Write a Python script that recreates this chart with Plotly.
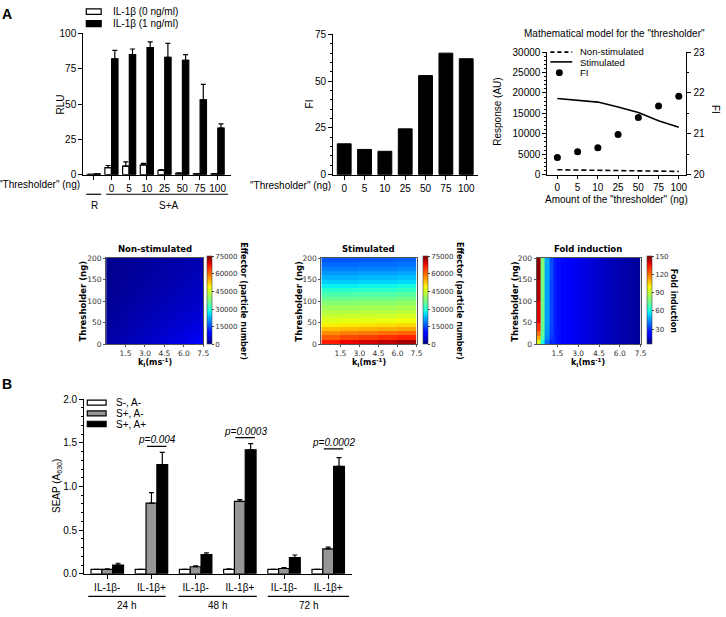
import plotly.graph_objects as go

# ---------------- DATA ----------------
# Panel A (left): RLU
a1_categories = ["R", "0", "5", "10", "25", "50", "75", "100"]
a1_il0 = [0.3, 5, 6, 7, 3, 1, 0.5, 0.5]
a1_il0_err = [0, 1.5, 3, 1, 0.5, 0.3, 0.2, 0.2]
a1_il1 = [0.5, 82, 85, 90, 83, 81, 53, 33]
a1_il1_err = [0, 6, 4, 4, 10, 4, 11, 3]

# Panel A (middle): FI
a2_categories = ["0", "5", "10", "25", "50", "75", "100"]
a2_fi = [16.5, 13.5, 12.5, 24.5, 53, 65, 62]

# Panel A (right): model
a3_doses = ["0", "5", "10", "25", "50", "75", "100"]
a3_nonstim = [1200, 1150, 1100, 1050, 950, 850, 800]
a3_stim = [18640, 18160, 17760, 16560, 15200, 13200, 11600]
a3_fi = [20.42, 20.56, 20.66, 20.98, 21.40, 21.68, 21.92]

# Heatmaps
nonstim_k = [0.0, 1.5, 3.0, 4.5, 6.0, 7.5]
nonstim_t = [0, 50, 100, 150, 200]
nonstim_z = [
    [2500, 3600, 4700, 5800, 7000, 8500],
    [1800, 2700, 3600, 4500, 5400, 6300],
    [1300, 2000, 2800, 3500, 4200, 4900],
    [1000, 1600, 2200, 2800, 3400, 4000],
    [800, 1300, 1800, 2300, 2800, 3300],
]
stim_k_edges = [0, 1.5, 3.0, 4.5, 6.0, 7.5]
stim_t_edges = [0, 10, 20, 30, 40, 50, 60, 70, 80, 90, 100, 110, 120, 130, 140, 150, 160, 170, 180, 190, 200]
stim_z = [
    [66000, 68000, 69500, 71000, 72500],
    [61000, 62500, 63500, 64500, 65500],
    [57000, 58000, 58500, 59500, 60000],
    [53000, 53500, 54000, 54500, 55000],
    [49000, 49500, 50000, 50500, 51000],
    [46500, 47000, 47000, 47500, 48000],
    [44500, 44500, 45000, 45000, 45500],
    [42500, 42500, 43000, 43000, 43500],
    [40500, 40500, 41000, 41000, 41500],
    [38500, 38500, 39000, 39000, 39500],
    [36000, 36000, 36500, 36500, 37000],
    [33000, 33000, 33500, 33500, 34000],
    [30000, 30000, 30500, 30500, 31000],
    [27000, 27000, 27500, 27500, 28000],
    [24500, 24500, 25000, 25000, 25500],
    [22500, 22500, 23000, 23000, 23500],
    [20500, 20500, 21000, 21000, 21500],
    [18500, 18500, 19000, 19000, 19500],
    [17000, 17000, 17500, 17500, 18000],
    [15500, 15500, 16000, 16000, 16500],
]
fold_low_k_edges = [0, 0.3, 0.6, 0.9, 1.2]
fold_low_t_edges = [0, 10, 20, 30, 50, 100, 150, 200]
fold_low_z = [
    [95, 60, 38, 28],
    [110, 68, 42, 31],
    [120, 72, 44, 32],
    [130, 74, 45, 33],
    [138, 76, 46, 33],
    [144, 77, 46, 33],
    [148, 78, 47, 34],
]
fold_high_z = [[27, 25, 23.5, 22, 20.5, 19.5, 18.5, 17.5, 16.5, 15.5, 14.8,
                14, 13.3, 12.6, 12, 11.3, 10.7, 10, 9.4, 8.8, 8.2]]

# Panel B: SEAP
b_groups = ["IL-1β-", "IL-1β+", "IL-1β-", "IL-1β+", "IL-1β-", "IL-1β+"]
b_times = ["24 h", "48 h", "72 h"]
b_white = [0.05, 0.05, 0.05, 0.05, 0.05, 0.05]
b_white_err = [0, 0, 0, 0.005, 0, 0]
b_grey = [0.05, 0.81, 0.08, 0.83, 0.06, 0.285]
b_grey_err = [0.005, 0.12, 0.01, 0.02, 0.01, 0.02]
b_black = [0.10, 1.25, 0.22, 1.42, 0.185, 1.23]
b_black_err = [0.02, 0.14, 0.02, 0.07, 0.03, 0.10]
b_pvalues = ["0.004", "0.0003", "0.0002"]
b_pline = [1.46, 1.56, 1.43]

# ---------------- HELPERS ----------------
W, H = 726, 617
FONT = "Liberation Sans, Arial, sans-serif"
HFONT = "DejaVu Sans, sans-serif"


def X(p):
    return p / W


def Y(p):
    return 1 - p / H


ann = []
shapes = []


def text(x, y, s, size=10, xanchor="center", yanchor="middle", family=FONT, angle=0):
    ann.append(dict(x=X(x), y=Y(y), xref="paper", yref="paper", text=s, showarrow=False,
                    xanchor=xanchor, yanchor=yanchor, textangle=angle,
                    font=dict(family=family, size=size, color="black")))


def pline(x0, y0, x1, y1, dash="solid", width=1.2):
    shapes.append(dict(type="line", xref="paper", yref="paper", x0=X(x0), y0=Y(y0), x1=X(x1), y1=Y(y1),
                       line=dict(color="black", width=width, dash=dash)))


def prect(x0, y0, x1, y1, fill):
    shapes.append(dict(type="rect", xref="paper", yref="paper", x0=X(x0), y0=Y(y0), x1=X(x1), y1=Y(y1),
                       fillcolor=fill, line=dict(color="black", width=1.2)))


def err(arr):
    return dict(type="data", array=arr, arrayminus=[0] * len(arr), symmetric=False,
                color="black", thickness=1.2, width=2.5)


def prism(**kw):
    d = dict(showline=True, linecolor="black", linewidth=1.2, ticks="outside", ticklen=4,
             tickwidth=1.2, tickcolor="black", showgrid=False, zeroline=False,
             tickfont=dict(family=FONT, size=10, color="black"))
    d.update(kw)
    return d


def hax(**kw):
    d = dict(showline=True, mirror=True, linecolor="#555", linewidth=1, ticks="outside", ticklen=2,
             tickcolor="#555", showgrid=False, zeroline=False,
             tickfont=dict(family=HFONT, size=7.5, color="#333"))
    d.update(kw)
    return d


jet = [[0, "rgb(0,0,128)"], [0.11, "rgb(0,0,255)"], [0.125, "rgb(0,0,255)"],
       [0.34, "rgb(0,219,255)"], [0.35, "rgb(0,230,247)"], [0.375, "rgb(21,255,226)"],
       [0.64, "rgb(238,255,8)"], [0.65, "rgb(247,245,0)"], [0.66, "rgb(255,236,0)"],
       [0.89, "rgb(255,19,0)"], [0.91, "rgb(232,0,0)"], [1, "rgb(128,0,0)"]]


def cbar(xpx, vals):
    return dict(x=X(xpx), xanchor="left", xref="paper", y=Y(345), yanchor="bottom", yref="paper",
                len=88, lenmode="pixels", thickness=5, thicknessmode="pixels", xpad=0, ypad=0,
                outlinewidth=0.6, outlinecolor="#444", tickvals=vals, ticks="outside", ticklen=2,
                tickformat="d", tickfont=dict(family=HFONT, size=7, color="#333"))


fig = go.Figure()

# ---------------- A1 ----------------
idx1 = list(range(len(a1_categories)))
fig.add_bar(x=idx1, y=a1_il0, width=0.36, offset=-0.37, xaxis="x", yaxis="y",
            marker=dict(color="white", line=dict(color="black", width=1.2)), error_y=err(a1_il0_err))
fig.add_bar(x=idx1, y=a1_il1, width=0.36, offset=0.01, xaxis="x", yaxis="y",
            marker=dict(color="black", line=dict(color="black", width=1.2)), error_y=err(a1_il1_err))

# ---------------- A2 ----------------
idx2 = list(range(len(a2_categories)))
fig.add_bar(x=idx2, y=a2_fi, width=0.68, offset=-0.34, xaxis="x2", yaxis="y2",
            marker=dict(color="black", line=dict(color="black", width=1)))

# ---------------- A3 ----------------
idx3 = list(range(len(a3_doses)))
fig.add_scatter(x=idx3, y=a3_nonstim, mode="lines", xaxis="x3", yaxis="y3",
                line=dict(color="black", width=1.6, dash="5px,3px"))
fig.add_scatter(x=idx3, y=a3_stim, mode="lines", xaxis="x3", yaxis="y3",
                line=dict(color="black", width=1.6))
fig.add_scatter(x=idx3, y=a3_fi, mode="markers", xaxis="x3", yaxis="y4",
                marker=dict(color="black", size=7))

# ---------------- Heatmaps ----------------
fig.add_heatmap(x=nonstim_k, y=nonstim_t, z=nonstim_z, zsmooth="best", zmin=0, zmax=75000,
                colorscale=jet, xaxis="x5", yaxis="y5",
                colorbar=cbar(209, [0, 15000, 30000, 45000, 60000, 75000]))
fig.add_heatmap(x=stim_k_edges, y=stim_t_edges, z=stim_z, zmin=0, zmax=75000,
                colorscale=jet, xaxis="x6", yaxis="y6",
                colorbar=cbar(427, [0, 15000, 30000, 45000, 60000, 75000]))
fold_high_k_edges = [round(1.2 + 0.3 * i, 2) for i in range(len(fold_high_z[0]) + 1)]
fig.add_heatmap(x=fold_low_k_edges, y=fold_low_t_edges, z=fold_low_z, zmin=5, zmax=150,
                colorscale=jet, xaxis="x7", yaxis="y7", showscale=False)
fig.add_heatmap(x=fold_high_k_edges, y=[0, 200], z=fold_high_z, zmin=5, zmax=150,
                colorscale=jet, xaxis="x7", yaxis="y7",
                colorbar=cbar(652, [30, 60, 90, 120, 150]))

# ---------------- B ----------------
idx8 = list(range(len(b_groups)))
for vals, errs, col, off in [(b_white, b_white_err, "white", -0.3675),
                             (b_grey, b_grey_err, "#969696", -0.1225),
                             (b_black, b_black_err, "black", 0.1225)]:
    fig.add_bar(x=idx8, y=vals, width=0.245, offset=off, xaxis="x8", yaxis="y8",
                marker=dict(color=col, line=dict(color="black", width=1.2)), error_y=err(errs))

# p-values
for i, (pv, ly) in enumerate(zip(b_pvalues, b_pline)):
    g = 2 * i + 1
    shapes.append(dict(type="line", xref="x8", yref="y8", x0=g - 0.1, x1=g + 0.34, y0=ly, y1=ly,
                       line=dict(color="black", width=1.2)))
    ann.append(dict(x=g + 0.12, y=ly, xref="x8", yref="y8", text="<i>p=" + pv + "</i>",
                    showarrow=False, xanchor="center", yanchor="bottom", yshift=-1,
                    font=dict(family=FONT, size=10, color="black")))

# ---------------- annotations & decorations ----------------
text(7, 8, "<b>A</b>", size=14)
text(7, 385, "<b>B</b>", size=14)

# A1 legend and labels
prect(87, 3, 102, 8.5, "white")
prect(87, 15, 102, 21, "black")
text(112, 6, "IL-1β (0 ng/ml)", xanchor="left")
text(112, 18, "IL-1β (1 ng/ml)", xanchor="left")
text(61, 100, "RLU", angle=-90)
text(83, 182, '"Thresholder" (ng)', xanchor="right")
pline(87, 192, 102, 192)
pline(107, 192, 230, 192)
text(95, 203, "R")
text(170, 203, "S+A")

# A2 labels
text(312, 100, "FI", angle=-90)
text(336, 183, '"Thresholder" (ng)', xanchor="right")

# A3 labels & legend
text(620, 28, 'Mathematical model for the "thresholder"')
text(502, 108, "Response (AU)", angle=-90)
text(721, 105, "FI", angle=90)
text(622, 197, 'Amount of the "thresholder" (ng)')
pline(555, 47, 577, 47, dash="4px,3px", width=1.6)
pline(555, 57, 577, 57, width=1.6)
shapes.append(dict(type="circle", xref="paper", yref="paper", x0=X(560.5), x1=X(567.5), y0=Y(64.5), y1=Y(71.5),
                   fillcolor="black", line=dict(color="black", width=0)))
text(583, 46.5, "Non-stimulated", xanchor="left", size=9.5)
text(583, 57.5, "Stimulated", xanchor="left", size=9.5)
text(583, 68, "FI", xanchor="left", size=9.5)

# Heatmap labels
for cx, ylab_x, title, cbx, cbtitle in [(156, 84, "Non-stimulated", 246, "Effector (particle number)"),
                                        (372, 302, "Stimulated", 464, "Effector (particle number)"),
                                        (593, 519, "Fold induction", 679, "Fold induction")]:
    text(cx, 248, "<b>" + title + "</b>", size=8.5, family=HFONT)
    text(ylab_x, 301, "<b>Thresholder (ng)</b>", size=8.5, family=HFONT, angle=-90)
    text(cx, 364, "<b>k<sub>I</sub>(ms<sup>-1</sup>)</b>", size=8, family=HFONT)
    text(cbx, 301, "<b>" + cbtitle + "</b>", size=8, family=HFONT, angle=90)

# B legend and labels
prect(88, 402, 107, 407, "white")
prect(88, 413, 107, 418, "#969696")
prect(88, 423.5, 107, 429, "black")
text(115, 404.5, "S-, A-", xanchor="left")
text(115, 415.5, "S+, A-", xanchor="left")
text(115, 426.5, "S+, A+", xanchor="left")
text(58, 490, "SEAP (A<sub>630</sub>)", angle=-90)
for (x0, x1), lab in zip([(89, 167), (180, 259), (270, 352)], b_times):
    pline(x0, 602, x1, 602)
    text((x0 + x1) / 2, 611, lab)

# ---------------- layout ----------------
fig.update_layout(
    width=W, height=H, margin=dict(l=0, r=0, t=0, b=0), showlegend=False,
    paper_bgcolor="white", plot_bgcolor="white", barmode="overlay",
    annotations=ann, shapes=shapes,
    xaxis=prism(domain=[X(84), X(233)], range=[-0.59, 7.76], anchor="y", tickvals=idx1,
                ticktext=["" if c == "R" else c for c in a1_categories]),
    yaxis=prism(domain=[Y(172), Y(28)], range=[0, 100], dtick=25, anchor="x"),
    xaxis2=prism(domain=[X(336), X(482)], range=[-0.54, 6.58], anchor="y2", tickvals=idx2,
                 ticktext=a2_categories),
    yaxis2=prism(domain=[Y(172), Y(29)], range=[0, 75], dtick=25, anchor="x2",
                 minor=dict(dtick=5, ticks="outside", ticklen=2, tickcolor="black", tickwidth=1)),
    xaxis3=prism(domain=[X(552), X(692)], range=[-0.49, 6.37], anchor="y3", tickvals=idx3,
                 ticktext=a3_doses, ticklen=3),
    yaxis3=prism(domain=[Y(172), Y(47)], range=[0, 30000], dtick=5000, anchor="x3", tickformat="d",
                 minor=dict(dtick=1000, ticks="outside", ticklen=2, tickcolor="black", tickwidth=1)),
    yaxis4=prism(overlaying="y3", side="right", anchor="x3", range=[20, 23], dtick=1,
                 minor=dict(dtick=0.5, ticks="outside", ticklen=2, tickcolor="black", tickwidth=1)),
    xaxis5=hax(domain=[X(107), X(205)], range=[0, 7.5], anchor="y5", tickvals=[1.5, 3, 4.5, 6, 7.5],
               ticktext=["1.5", "3.0", "4.5", "6.0", "7.5"]),
    yaxis5=hax(domain=[Y(345), Y(257)], range=[0, 200], anchor="x5", tickvals=[0, 50, 100, 150, 200]),
    xaxis6=hax(domain=[X(324), X(420)], range=[0, 7.5], anchor="y6", tickvals=[1.5, 3, 4.5, 6, 7.5],
               ticktext=["1.5", "3.0", "4.5", "6.0", "7.5"]),
    yaxis6=hax(domain=[Y(345), Y(257)], range=[0, 200], anchor="x6", tickvals=[0, 50, 100, 150, 200]),
    xaxis7=hax(domain=[X(541), X(646)], range=[0, 7.5], anchor="y7", tickvals=[1.5, 3, 4.5, 6, 7.5],
               ticktext=["1.5", "3.0", "4.5", "6.0", "7.5"]),
    yaxis7=hax(domain=[Y(345), Y(257)], range=[0, 200], anchor="x7", tickvals=[0, 50, 100, 150, 200]),
    xaxis8=prism(domain=[X(85), X(355)], range=[-0.52, 5.54], anchor="y8", tickvals=idx8,
                 ticktext=b_groups),
    yaxis8=prism(domain=[Y(579), Y(401)], range=[0, 2], dtick=0.5, tickformat=".1f", anchor="x8",
                 minor=dict(dtick=0.1, ticks="outside", ticklen=2, tickcolor="black", tickwidth=1)),
)

fig.write_html("out.html", config={"displayModeBar": False},
               post_script="document.body.style.margin='0px';")
